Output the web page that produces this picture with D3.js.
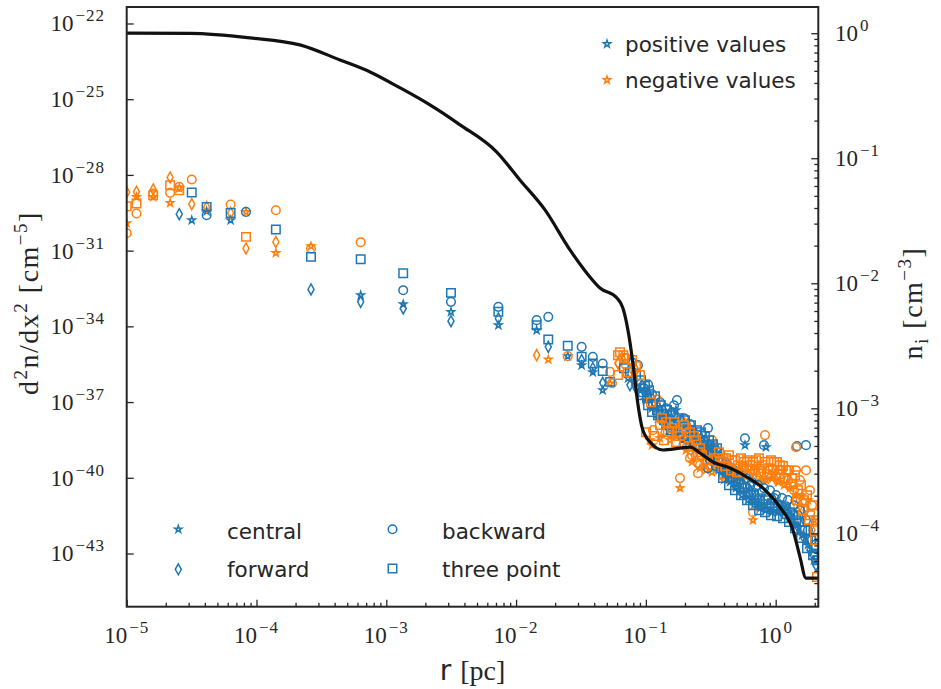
<!DOCTYPE html>
<html><head><meta charset="utf-8">
<script src="https://cdn.jsdelivr.net/npm/d3@7"></script>
<style>body{margin:0;background:#fff}</style>
</head><body>
<svg id="chart" width="941" height="689"></svg>
<script>
// ---- data: [r (pc), |d2n/dx2| (cm^-5)] ----
const centralPos = [[3.17e-5,1.61e-30],[4.13e-5,3.66e-30],[6.32e-5,1.61e-30],[6.35e-4,1.72e-33],[1.35e-3,7.57e-34],[3.15e-3,3.75e-34],[7.3e-3,1.11e-34],[1.44e-2,7.06e-35],[2.5e-2,6.59e-36],[3.2e-2,2.9e-36],[3.9e-2,1.53e-36],[4.65e-2,2.96e-37],
 [0.0728,8.8e-37],[0.0810,6.2e-37],[0.0901,2.96e-37],[0.1002,1.19e-37],[0.1114,5.7e-38],[0.1239,2.3e-38],[0.1378,1.22e-38],[0.1533,7.7e-39],[0.1705,4.8e-38],[0.1705,4.9e-39],[0.1897,3.1e-39],[0.2110,2.6e-39],[0.2347,1.96e-39],[0.2611,1.24e-39],[0.2904,7.9e-40],[0.3230,5.0e-40],[0.3593,3.16e-40],[0.3997,1.27e-40],[0.4446,6.8e-41],[0.4945,3.9e-41],[0.5501,2.05e-41],[0.580,1.96e-39],[0.6119,1.3e-41],[0.6806,8.2e-42],[0.7570,6.2e-42],[0.8420,1.63e-39],[0.8420,5.2e-42],[0.9365,4.3e-42],[1.042,4.3e-42],[1.159,5.2e-42],[1.289,3.3e-42],[1.434,1.33e-42],[1.595,5.3e-43],[1.774,2.2e-43],[1.973,5.4e-44]];
const centralNeg = [[1e-5,1.22e-30],[1.19e-5,1.35e-29],[1.6e-5,1.35e-29],[2.16e-5,7.8e-30],[2.54e-5,3.0e-29],[8.3e-5,3.43e-30],[1.41e-4,8.15e-32],[2.63e-4,1.5e-31],[1.77e-2,4.87e-36],[5.3e-2,5.46e-37],
 [0.1075,3.1e-39],[0.1114,1.96e-39],[0.1284,3.7e-39],[0.1533,3.1e-39],[0.1831,3.9e-41],[0.2036,1.24e-39],[0.2265,4.2e-40],[0.2611,2.4e-40],[0.2904,2.0e-40],[0.3230,1.67e-40],[0.3593,2.0e-40],[0.3997,8.1e-41],[0.4446,9.7e-41],[0.4945,8.1e-41],[0.5501,9.7e-41],[0.6686,2.1e-42],[0.7570,6.8e-41],[0.8420,8.1e-41],[0.9365,9.7e-41],[1.042,6.8e-41],[1.159,5.1e-41],[1.289,3.9e-41],[1.434,2.05e-41],[1.595,2.05e-41],[1.774,1.3e-41],[1.973,2.1e-42]];
const forwardPos = [[2.54e-5,2.78e-30],[2.63e-4,2.89e-33],[6.35e-4,9.33e-34],[1.35e-3,5.11e-34],[3.15e-3,1.6e-34],[7.3e-3,2.05e-34],[1.77e-2,1.54e-35],[3.2e-2,4.57e-36],[3.9e-2,2.2e-36],[4.65e-2,5.76e-37],
 [0.0754,4.7e-37],[0.0839,3.6e-37],[0.0933,4.7e-37],[0.1038,1.88e-37],[0.1154,9.9e-38],[0.1284,4.8e-38],[0.1428,2.3e-38],[0.1588,1.6e-38],[0.1767,9.3e-39],[0.1965,6.4e-39],[0.2186,3.7e-39],[0.2432,3.1e-39],[0.2705,1.49e-39],[0.3009,1.03e-39],[0.3347,7.2e-40],[0.3723,4.2e-40],[0.4141,2.4e-40],[0.4606,1.67e-40],[0.5124,8.1e-41],[0.5700,5.1e-41],[0.6340,3.2e-41],[0.7052,2.05e-41],[0.7844,1.3e-41],[0.8724,8.2e-42],[0.9703,1.3e-41],[1.079,8.2e-42],[1.200,5.2e-42],[1.335,2.5e-42],[1.485,1.11e-42],[1.652,4.1e-43],[1.838,1.36e-43],[2.044,3.45e-44]];
const forwardNeg = [[1e-5,2.07e-29],[1.19e-5,2.13e-29],[1.6e-5,2.65e-29],[2.16e-5,7.92e-29],[3.17e-5,6.93e-30],[4.13e-5,5.27e-30],[6.32e-5,3.13e-30],[8.3e-5,1.22e-31],[1.41e-4,2.22e-31],[1.44e-2,7.22e-36],[6.1e-2,3.38e-36],
 [0.0610,3.5e-36],[0.0654,5.5e-36],[0.0839,1.84e-36],[0.1002,1.88e-37],[0.1378,6.4e-39],[0.1646,4.9e-39],[0.2036,1.96e-39],[0.2347,7.9e-40],[0.2803,4.2e-40],[0.3118,3.16e-40],[0.3468,2.4e-40],[0.3857,1.27e-40],[0.4291,1.67e-40],[0.4773,1.27e-40],[0.5309,1.52e-40],[0.5905,2.0e-40],[0.6569,1.67e-40],[0.7306,1.27e-40],[0.8127,9.7e-41],[0.9039,1.16e-40],[1.005,8.1e-41],[1.118,9.7e-41],[1.244,5.1e-41],[1.384,1.3e-41],[1.539,8.2e-42],[1.712,5.2e-42],[1.904,8.4e-43]];
const backwardPos = [[4.13e-5,2.54e-30],[8.3e-5,3.43e-30],[1.35e-3,2.71e-33],[3.15e-3,9.33e-34],[7.3e-3,5.92e-34],[1.44e-2,1.76e-34],[1.77e-2,2.38e-34],[3.2e-2,1.54e-35],[3.9e-2,6.18e-36],[4.65e-2,3.38e-36],
 [0.0703,5.5e-36],[0.0781,3.8e-36],[0.0869,2.9e-36],[0.0967,3.6e-37],[0.1002,2.5e-37],[0.1075,1.43e-37],[0.1196,7.5e-38],[0.1330,4.8e-38],[0.1480,3.0e-38],[0.1646,7.5e-38],[0.1736,1.19e-37],[0.1831,1.92e-38],[0.2036,1.22e-38],[0.2265,7.7e-39],[0.2520,4.9e-39],[0.2803,3.1e-39],[0.3009,9.3e-39],[0.3118,1.96e-39],[0.3468,1.24e-39],[0.3857,5.0e-40],[0.4291,3.16e-40],[0.4773,2.0e-40],[0.5309,1.27e-40],[0.580,3.7e-39],[0.5905,9.7e-41],[0.6569,6.8e-41],[0.7306,5.1e-41],[0.8127,1.96e-39],[0.8127,3.9e-41],[0.9039,3.2e-41],[1.005,2.05e-41],[1.118,1.56e-41],[1.244,1.3e-41],[1.384,8.2e-42],[1.46,1.79e-39],[1.539,5.2e-42],[1.712,1.96e-39],[1.712,2.1e-42],[1.904,3.4e-43],[2.01,8.6e-44],
 [0.1038,5.1e-37],[0.1114,2.06e-37],[0.1284,9.9e-38],[0.1428,5.7e-38],[0.1588,4.0e-38],[0.1965,2.3e-38],[0.2186,1.34e-38],[0.2705,5.4e-39],[0.3347,1.79e-39],[0.3723,1.03e-39],[0.4291,1.39e-40],[0.5124,9.7e-41],[0.6340,4.7e-41],[0.7844,2.7e-41],[0.9703,1.56e-41],[1.200,7.5e-42],[1.485,3.3e-42],[1.774,8.4e-43],[2.044,5.4e-44],
 [0.2803,1.03e-39],[0.3118,5.0e-40],[0.3468,2.9e-40],[0.3009,2.4e-40]];
const backwardNeg = [[1e-5,4.91e-31],[1.19e-5,2.97e-30],[1.6e-5,1.84e-29],[2.16e-5,1.95e-29],[2.54e-5,3.36e-29],[3.17e-5,6.59e-29],[6.32e-5,6.75e-30],[1.41e-4,4.0e-30],[2.63e-4,1.22e-31],[6.35e-4,2.16e-31],[2.5e-2,6.59e-36],[5.3e-2,1.57e-36],
 [0.0548,5.6e-37],[0.0703,2.9e-36],[0.0810,1.84e-36],[0.1217,1.3e-37],[0.1134,7.7e-39],[0.1931,1.6e-38],[0.2265,7.9e-40],[0.2520,3.8e-40],[0.2520,1.52e-40],[0.1831,9.7e-41],[0.3230,3.1e-39],[0.3593,3.16e-40],[0.3997,2.0e-40],[0.4446,2.4e-40],[0.4945,1.67e-40],[0.5501,2.0e-40],[0.6119,1.27e-40],[0.6686,4.3e-42],[0.8273,4.9e-39],[0.9039,2.0e-40],[1.005,1.27e-40],[1.118,2.0e-40],[1.244,8.1e-41],[1.384,3.2e-41],[1.434,1.63e-39],[1.539,8.1e-41],[1.712,2.0e-40],[1.904,8.2e-42],
 [0.2186,6.0e-40],[0.2611,3.16e-40],[0.2904,5.0e-40],[0.4141,4.2e-40],[0.5700,2.9e-40],[0.7570,2.4e-40],[1.079,2.0e-40],[1.434,2.0e-40],[1.838,3.2e-41]];
const threePointPos = [[3.17e-5,2.01e-29],[4.13e-5,5.42e-30],[6.32e-5,3.13e-30],[1.41e-4,6.89e-31],[2.63e-4,5.66e-32],[6.35e-4,4.59e-32],[1.35e-3,1.28e-32],[3.15e-3,2.12e-33],[7.3e-3,3.75e-34],[1.44e-2,1.11e-34],[1.77e-2,3.03e-35],[2.5e-2,1.69e-35],[3.2e-2,6.18e-36],[3.9e-2,3.38e-36],[4.65e-2,1.72e-36],[5.3e-2,6.31e-37],
 [0.0678,2.2e-36],[0.0754,1.53e-36],[0.0839,1.16e-36],[0.0933,1.88e-37],[0.1038,7.5e-38],[0.1114,4.0e-38],[0.1239,3.0e-38],[0.1378,1.92e-38],[0.1533,1.22e-38],[0.1705,7.7e-39],[0.1897,6.4e-39],[0.2110,4.5e-39],[0.2347,3.1e-39],[0.2611,1.96e-39],[0.2904,1.24e-39],[0.3230,7.9e-40],[0.3593,5.0e-40],[0.3997,2.0e-40],[0.4446,9.7e-41],[0.4945,6.8e-41],[0.5501,3.9e-41],[0.6119,2.7e-41],[0.6806,2.05e-41],[0.7570,1.56e-41],[0.8420,1.3e-41],[0.9365,9.9e-42],[1.042,8.2e-42],[1.159,6.2e-42],[1.289,4.3e-42],[1.434,2.1e-42],[1.595,8.4e-43],[1.774,3.4e-43],[1.973,1.63e-43],[2.08,5.4e-44],
 [0.0917,7.4e-37],[0.0950,2.47e-37],[0.0984,4.3e-37],[0.1020,1.43e-37],[0.1057,2.96e-37],[0.1134,8.3e-38],[0.1175,1.72e-37],[0.1217,4.8e-38],[0.1307,7.5e-38],[0.1354,3.3e-38],[0.1454,4.8e-38],[0.1507,1.92e-38],[0.1561,7.7e-39],[0.1617,3.0e-38],[0.1675,1.33e-38],[0.1798,2.3e-38],[0.1864,9.3e-39],[0.2000,1.92e-38],[0.2072,7.7e-39],[0.2225,1.22e-38],[0.2305,4.9e-39],[0.2475,7.7e-39],[0.2565,3.1e-39],[0.2658,6.4e-39],[0.2754,2.6e-39],[0.2853,4.5e-39],[0.2956,1.79e-39],[0.3063,3.1e-39],[0.3174,1.24e-39],[0.3288,2.15e-39],[0.3407,7.9e-40],[0.3530,1.49e-39],[0.3657,6.0e-40],[0.3790,2.4e-40],[0.3926,9.7e-41],[0.4215,1.67e-40],[0.4367,5.1e-41],[0.4689,9.7e-41],[0.4858,3.2e-41],[0.5216,5.6e-41],[0.5404,2.05e-41],[0.5802,3.9e-41],[0.6011,1.3e-41],[0.6454,2.25e-41],[0.6687,8.2e-42],[0.7179,1.3e-41],[0.7437,5.2e-42],[0.7985,9.0e-42],[0.8271,4.3e-42],[0.8880,6.8e-42],[0.9201,3.3e-42],[0.9877,6.2e-42],[1.023,3.0e-42],[1.098,5.2e-42],[1.138,2.5e-42],[1.222,3.6e-42],[1.266,1.75e-42],[1.359,3.3e-42],[1.408,1.01e-42],[1.512,1.75e-42],[1.567,4.1e-43],[1.683,8.4e-43],[1.743,1.63e-43],[1.871,3.4e-43],[1.938,8.6e-44],[2.044,2.15e-43]];
const threePointNeg = [[1e-5,5.77e-30],[1.19e-5,7.39e-30],[1.6e-5,1.57e-29],[2.16e-5,3.93e-29],[2.54e-5,2.49e-29],[8.3e-5,3.51e-31],[6.1e-2,1.17e-36],[6.7e-2,7.22e-36],
 [0.0610,7.2e-36],[0.0678,5.5e-36],[0.0728,1.53e-36],[0.0901,1.16e-36],[0.1094,9.9e-38],[0.1284,1.22e-38],[0.1428,1.6e-38],[0.1588,9.3e-39],[0.1767,6.4e-39],[0.1965,1.22e-38],[0.2186,6.4e-39],[0.2432,3.1e-39],[0.2705,7.9e-40],[0.3009,5.0e-40],[0.3347,6.0e-40],[0.3723,4.2e-40],[0.4141,6.0e-40],[0.4606,5.0e-40],[0.5124,3.16e-40],[0.5700,4.2e-40],[0.6340,3.16e-40],[0.7052,5.0e-40],[0.7844,3.16e-40],[0.8724,2.4e-40],[0.9703,4.2e-40],[1.079,3.16e-40],[1.200,2.0e-40],[1.335,9.7e-41],[1.485,3.2e-41],[1.652,1.3e-41],[1.838,3.3e-42],[2.01,8.4e-43],[2.08,1.16e-44],
 [0.3657,1.03e-39],[0.3926,6.0e-40],[0.4068,2.9e-40],[0.4367,7.9e-40],[0.4525,2.0e-40],[0.4858,5.0e-40],[0.5034,1.67e-40],[0.5404,6.0e-40],[0.5599,2.4e-40],[0.6011,5.0e-40],[0.6229,1.39e-40],[0.6687,4.2e-40],[0.6928,2.0e-40],[0.7437,6.0e-40],[0.7706,1.67e-40],[0.8271,4.2e-40],[0.8571,1.39e-40],[0.9201,5.0e-40],[0.9533,2.0e-40],[1.023,4.2e-40],[1.060,1.39e-40],[1.138,2.9e-40],[1.179,9.7e-41],[1.266,2.0e-40],[1.312,5.6e-41],[1.408,1.27e-40],[1.459,1.3e-41],[1.567,5.1e-41],[1.623,5.2e-42],[1.743,2.05e-41],[1.806,2.1e-42],[1.938,8.2e-42],[2.01,3.4e-43],[2.044,2.1e-42],
 [0.1330,2.3e-38],[0.1480,6.4e-39],[0.1646,1.6e-38],[0.1831,4.5e-39],[0.2036,9.3e-39],[0.2347,4.5e-39],[0.2611,1.49e-39],[0.0632,9.5e-36],[0.0781,4.6e-36],[0.0839,2.65e-36],
 [0.1002,6.4e-39],[0.1154,4.5e-39],[0.1378,3.1e-39],[0.1705,2.6e-39],[0.2186,1.79e-39],[0.2520,1.03e-39]];
// ion density profile: [r (pc), n_i (cm^-3)]
const densityProfile = [[1e-5,1.0],[3.08e-5,0.996],[8.9e-5,0.917],[2.16e-4,0.806],[4.4e-4,0.611],[7.5e-4,0.49],[1.28e-3,0.365],[2.17e-3,0.267],[3.7e-3,0.185],[7.1e-3,0.112],[1.07e-2,0.067],[1.67e-2,0.0386],[2.6e-2,0.0185],[3.5e-2,0.0121],[4.43e-2,0.00917],[5.98e-2,0.00762],[6.65e-2,0.00634],[0.0728,0.0042],[0.0794,0.0023],[0.0853,0.00123],[0.0933,7.08e-4],[0.1076,5.37e-4],[0.1355,4.64e-4],[0.183,4.8e-4],[0.219,4.9e-4],[0.261,4.39e-4],[0.329,3.72e-4],[0.445,3.33e-4],[0.601,2.82e-4],[0.798,2.3e-4],[1.079,1.62e-4],[1.36,1.06e-4],[1.54,6.46e-5],[1.71,4.39e-5],[2.12,4.39e-5]];
// ticks
const xTickValues = [1e-5,1e-4,1e-3,1e-2,1e-1,1];
const yLeftTickValues = [1e-22,1e-25,1e-28,1e-31,1e-34,1e-37,1e-40,1e-43];
const yRightTickValues = [1,1e-1,1e-2,1e-3,1e-4];
const methodLabels = ["central","forward","backward","three point"];
const signLabels = ["positive values","negative values"];

// ---- layout ----
const L=126.7, R=818.3, T=7, B=606.7;
const BLUE="#1f77b4", ORANGE="#ff7f0e", INK="#262626";
const svg = d3.select("#chart");
const x = d3.scaleLog().domain([1e-5,2.13]).range([L,R]);
const yL = d3.scaleLog().domain([7.8e-46,4.5e-22]).range([B,T]);
const yR = d3.scaleLog().domain([2.59e-5,1.62]).range([B,T]);

const thinDiamond = {draw(ctx,size){const r=Math.sqrt(size)/2;ctx.moveTo(0,-r);ctx.lineTo(0.55*r,0);ctx.lineTo(0,r);ctx.lineTo(-0.55*r,0);ctx.closePath();}};
const sym = {
  central:{type:d3.symbolStar,size:16},
  forward:{type:thinDiamond,size:121},
  backward:{type:d3.symbolCircle,size:58},
  three:{type:d3.symbolSquare,size:72}
};

svg.append("defs").append("clipPath").attr("id","clip").append("rect")
  .attr("x",L).attr("y",T).attr("width",R-L).attr("height",B-T);

const plot = svg.append("g").attr("clip-path","url(#clip)");
const series = [
  [centralPos,"central",BLUE],[centralNeg,"central",ORANGE],
  [forwardPos,"forward",BLUE],[forwardNeg,"forward",ORANGE],
  [backwardPos,"backward",BLUE],[backwardNeg,"backward",ORANGE],
  [threePointPos,"three",BLUE],[threePointNeg,"three",ORANGE]
];
series.forEach(([data,m,col])=>{
  const p = d3.symbol(sym[m].type, sym[m].size)();
  plot.append("g").selectAll("path").data(data).join("path")
    .attr("transform",d=>`translate(${x(d[0])},${yL(d[1])})`)
    .attr("d",p).attr("fill","none").attr("stroke",col).attr("stroke-width",1.5);
});

plot.append("path").datum(densityProfile)
  .attr("d",d3.line().x(d=>x(d[0])).y(d=>yR(d[1])).curve(d3.curveMonotoneX))
  .attr("fill","none").attr("stroke","#111").attr("stroke-width",3.2).attr("stroke-linejoin","round");

// ---- axes ----
function styleAxis(g){g.select(".domain").remove();g.selectAll(".tick line").attr("stroke",INK).attr("stroke-width",1.3);g.selectAll(".tick text").remove();}
const xMinor = x.ticks().filter(v=>Math.abs(Math.log10(v)-Math.round(Math.log10(v)))>1e-6);
svg.append("g").attr("transform",`translate(0,${B})`).call(d3.axisBottom(x).tickValues(xTickValues).tickSizeInner(-7).tickSizeOuter(0)).call(styleAxis);
svg.append("g").attr("transform",`translate(0,${B})`).call(d3.axisBottom(x).tickValues(xMinor).tickSizeInner(-4).tickSizeOuter(0)).call(styleAxis);
svg.append("g").attr("transform",`translate(${L},0)`).call(d3.axisLeft(yL).tickValues(yLeftTickValues).tickSizeInner(-7).tickSizeOuter(0)).call(styleAxis);
const yRMinor = yR.ticks().filter(v=>Math.abs(Math.log10(v)-Math.round(Math.log10(v)))>1e-6);
svg.append("g").attr("transform",`translate(${R},0)`).call(d3.axisRight(yR).tickValues(yRightTickValues).tickSizeInner(-7).tickSizeOuter(0)).call(styleAxis);
svg.append("g").attr("transform",`translate(${R},0)`).call(d3.axisRight(yR).tickValues(yRMinor).tickSizeInner(-4).tickSizeOuter(0)).call(styleAxis);

svg.append("rect").attr("x",L).attr("y",T).attr("width",R-L).attr("height",B-T)
  .attr("fill","none").attr("stroke",INK).attr("stroke-width",2);

const SERIF="'Liberation Serif', 'Times New Roman', serif";
const SANS="'DejaVu Sans', sans-serif";
function powLabel(px,py,v,anchor){
  const e=Math.round(Math.log10(v));
  const t=svg.append("text").attr("x",px).attr("y",py).attr("text-anchor",anchor)
    .attr("font-family",SERIF).attr("font-size",23).attr("fill",INK);
  t.append("tspan").text("10");
  t.append("tspan").attr("dx",2).attr("dy",-10).attr("font-size",17).attr("letter-spacing",1)
    .text(e<0?"\u2212"+(-e):String(e));
}
xTickValues.forEach(v=>powLabel(x(v),643,v,"middle"));
yLeftTickValues.forEach(v=>powLabel(105,yL(v)+8,v,"end"));
yRightTickValues.forEach(v=>powLabel(835,yR(v)+8,v,"start"));

// axis titles
const xt = svg.append("text").attr("x",(L+R)/2).attr("y",680).attr("text-anchor","middle").attr("fill",INK).attr("font-size",28);
xt.append("tspan").attr("font-family",SANS).text("r ");
xt.append("tspan").attr("font-family",SERIF).text("[pc]");

const yt = svg.append("text").attr("transform","translate(38,303) rotate(-90)").attr("text-anchor","middle")
  .attr("font-family",SERIF).attr("font-size",28).attr("fill",INK).attr("letter-spacing",1.5);
yt.append("tspan").text("d");
yt.append("tspan").attr("dy",-11).attr("font-size",19).text("2");
yt.append("tspan").attr("dy",11).text("n/dx");
yt.append("tspan").attr("dy",-11).attr("font-size",19).text("2");
yt.append("tspan").attr("dy",11).text(" [cm");
yt.append("tspan").attr("dy",-11).attr("font-size",19).text("\u22125");
yt.append("tspan").attr("dy",11).text("]");

const rt = svg.append("text").attr("transform","translate(922,303) rotate(-90)").attr("text-anchor","middle")
  .attr("font-family",SERIF).attr("font-size",28).attr("fill",INK).attr("letter-spacing",1.5);
rt.append("tspan").text("n");
rt.append("tspan").attr("dy",6).attr("font-size",19).text("i");
rt.append("tspan").attr("dy",-6).text(" [cm");
rt.append("tspan").attr("dy",-11).attr("font-size",19).text("\u22123");
rt.append("tspan").attr("dy",11).text("]");

// ---- legends ----
const starPath = d3.symbol(sym.central.type, sym.central.size)();
[[BLUE,44,52,signLabels[0]],[ORANGE,80,88,signLabels[1]]].forEach(([c,my,ty,lab])=>{
  svg.append("path").attr("transform",`translate(607,${my})`).attr("d",starPath).attr("fill","none").attr("stroke",c).attr("stroke-width",1.5);
  svg.append("text").attr("x",625).attr("y",ty).attr("font-family",SANS).attr("font-size",21.5).attr("fill",INK).text(lab);
});
const legItems = [["central",178.3,529.3,227,539],["forward",178.3,569.3,227,577],["backward",392.5,529.3,442,539],["three",392.5,568.5,442,577]];
legItems.forEach(([m,mx,my,tx,ty],i)=>{
  svg.append("path").attr("transform",`translate(${mx},${my})`).attr("d",d3.symbol(sym[m].type,sym[m].size)())
    .attr("fill","none").attr("stroke",BLUE).attr("stroke-width",1.5);
  svg.append("text").attr("x",tx).attr("y",ty).attr("font-family",SANS).attr("font-size",21.5).attr("fill",INK).text(methodLabels[i]);
});
</script>
</body></html>
